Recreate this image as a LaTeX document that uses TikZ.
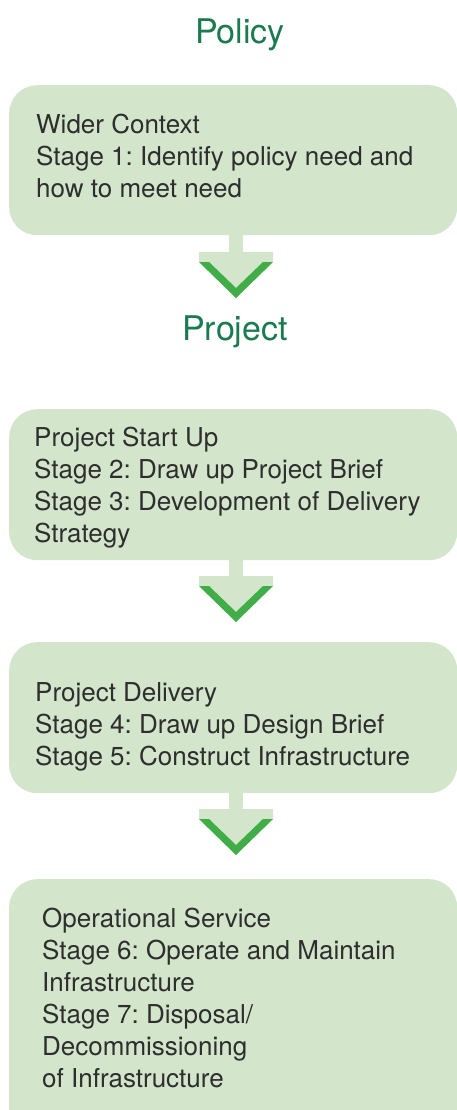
\documentclass[tikz,border=0pt]{standalone}
\usepackage{fontspec}
\setmainfont{TeX Gyre Heros}
\usepackage{xcolor}
\usepackage{tikz}
\usetikzlibrary{positioning}
\frenchspacing

\definecolor{boxfill}{HTML}{D3E6CC}
\definecolor{chevgreen}{HTML}{40AD48}
\definecolor{headgreen}{HTML}{1B7A50}
\definecolor{bodygrey}{HTML}{2E2E2E}

\tikzset{
  stagebox/.style={rectangle, rounded corners=28pt, fill=boxfill, inner sep=0pt,
    minimum width=448pt, anchor=north west},
  stagetext/.style={anchor=north west, inner sep=0pt, align=left, text=bodygrey,
    font=\fontsize{26}{32}\selectfont},
  heading/.style={anchor=base, inner sep=0pt, text=headgreen,
    font=\fontsize{34}{40}\selectfont}
}

\begin{document}
\begin{tikzpicture}[x=1pt,y=-1pt]
\clip (0,0) rectangle (457,1110);

\node[heading] (policy) at (240,44) {Policy};
\node[heading] (project) at (235,340) {Project};

\node[stagebox, minimum height=150pt] (box1) at (9,85) {};
\node[stagebox, minimum height=151pt] (box2) at (9,409) {};
\node[stagebox, minimum height=151pt] (box3) at (9,642) {};
\node[stagebox, minimum height=260pt] (box4) at (9,879) {};

\node[stagetext] (txt1) at (36,114) {Wider Context\\Stage 1: Identify policy need and\\how to meet need};
\node[stagetext] (txt2) at (34,427) {Project Start Up\\Stage 2: Draw up Project Brief\\Stage 3: Development of Delivery\\Strategy};
\node[stagetext] (txt3) at (35,682) {Project Delivery\\Stage 4: Draw up Design Brief\\Stage 5: Construct Infrastructure};
\node[stagetext] (txt4) at (42,908) {Operational Service\\Stage 6: Operate and Maintain\\Infrastructure\\Stage 7: Disposal/\\Decommissioning\\of Infrastructure};

% down arrows below the boxes
\foreach \b/\t in {box1/252, box2/576, box3/809} {
  \coordinate (top) at (236,\t);
  \fill[boxfill] (\b.south -| 229,0) rectangle (243,\t+1);
  \fill[boxfill] (199,\t) -- (273,\t) -- (273,\t+10) -- (236,\t+46) -- (199,\t+10) -- cycle;
  \fill[chevgreen] (199,\t+10) -- (209,\t+10) -- (236,\t+36) -- (263,\t+10) -- (273,\t+10) -- (236,\t+46) -- cycle;
}
\end{tikzpicture}
\end{document}
